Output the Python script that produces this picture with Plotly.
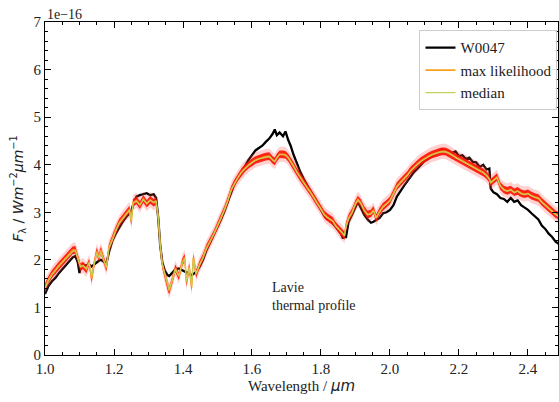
import plotly.graph_objects as go

wavelength = [
    1.000, 1.010, 1.020, 1.030, 1.040, 1.050, 1.060, 1.070, 1.080, 1.088,
    1.095, 1.100, 1.103, 1.110, 1.120, 1.128, 1.135, 1.142, 1.150, 1.156,
    1.162, 1.170, 1.178, 1.185, 1.195, 1.205, 1.215, 1.225, 1.235, 1.245,
    1.250, 1.255, 1.265, 1.275, 1.285, 1.295, 1.305, 1.315, 1.322, 1.328,
    1.334, 1.340, 1.347, 1.355, 1.360, 1.368, 1.378, 1.388, 1.398, 1.405,
    1.410, 1.418, 1.425, 1.430, 1.438, 1.448, 1.458, 1.468, 1.478, 1.490,
    1.500, 1.510, 1.520, 1.530, 1.540, 1.550, 1.560, 1.570, 1.580, 1.590,
    1.600, 1.610, 1.620, 1.630, 1.640, 1.650, 1.660, 1.666, 1.672, 1.680,
    1.690, 1.697, 1.705, 1.712, 1.720, 1.730, 1.740, 1.750, 1.760, 1.770,
    1.780, 1.790, 1.800, 1.810, 1.818, 1.826, 1.834, 1.842, 1.850, 1.858,
    1.864, 1.868, 1.872, 1.880, 1.890, 1.900, 1.907, 1.915, 1.925, 1.935,
    1.945, 1.952, 1.960, 1.970, 1.980, 1.990, 2.000, 2.010, 2.020, 2.030,
    2.040, 2.050, 2.060, 2.070, 2.080, 2.090, 2.100, 2.110, 2.120, 2.130,
    2.140, 2.150, 2.160, 2.170, 2.180, 2.190, 2.200, 2.210, 2.220, 2.230,
    2.240, 2.250, 2.260, 2.270, 2.280, 2.288, 2.292, 2.300, 2.310, 2.320,
    2.330, 2.340, 2.350, 2.360, 2.370, 2.380, 2.390, 2.400, 2.410, 2.420,
    2.430, 2.440, 2.450, 2.460, 2.470, 2.480, 2.490,
]

# observed spectrum W0047 (units of 1e-16 W m^-2 um^-1)
flux_w0047 = [
    1.28, 1.45, 1.55, 1.62, 1.72, 1.80, 1.88, 1.98, 2.05, 2.08,
    1.95, 1.72, 1.85, 1.90, 1.88, 1.90, 1.86, 1.90, 1.95, 1.98,
    2.00, 1.95, 1.92, 2.15, 2.40, 2.55, 2.68, 2.80, 2.90, 2.98,
    3.02, 3.15, 3.33, 3.36, 3.38, 3.40, 3.36, 3.38, 3.30, 2.90,
    2.30, 1.95, 1.78, 1.68, 1.66, 1.72, 1.80, 1.82, 1.78, 1.75,
    1.74, 1.70, 1.68, 1.70, 1.75, 1.85, 2.00, 2.20, 2.35, 2.52,
    2.68, 2.85, 3.02, 3.22, 3.45, 3.62, 3.72, 3.85, 3.98, 4.10,
    4.20, 4.30, 4.35, 4.40, 4.48, 4.55, 4.65, 4.74, 4.62, 4.68,
    4.60, 4.70, 4.52, 4.40, 4.22, 4.02, 3.85, 3.70, 3.56, 3.44,
    3.32, 3.20, 3.05, 2.92, 2.85, 2.88, 2.76, 2.70, 2.62, 2.55,
    2.45, 2.60, 2.46, 2.80, 2.95, 3.12, 3.22, 3.10, 2.95, 2.85,
    2.78, 2.80, 2.84, 2.88, 2.98, 3.00, 3.05, 3.15, 3.33, 3.45,
    3.55, 3.65, 3.75, 3.85, 3.92, 4.00, 4.08, 4.12, 4.18, 4.22,
    4.26, 4.32, 4.30, 4.27, 4.25, 4.28, 4.18, 4.20, 4.12, 4.15,
    4.06, 4.05, 3.95, 4.00, 3.90, 3.92, 3.50, 3.42, 3.38, 3.30,
    3.28, 3.22, 3.30, 3.22, 3.25, 3.15, 3.10, 3.05, 2.98, 2.92,
    2.85, 2.72, 2.65, 2.55, 2.48, 2.38, 2.33,
]

flux_max_likelihood = [
    1.42, 1.58, 1.70, 1.80, 1.88, 1.96, 2.04, 2.12, 2.20, 2.21,
    2.05, 1.92, 1.85, 1.88, 1.80, 1.95, 1.60, 1.90, 2.18, 2.05,
    2.20, 2.00, 1.83, 2.25, 2.45, 2.62, 2.78, 2.88, 2.98, 3.06,
    2.80, 3.20, 3.25, 3.15, 3.28, 3.18, 3.26, 3.20, 3.24, 2.90,
    2.30, 1.90, 1.70, 1.45, 1.35, 1.55, 1.82, 1.65, 1.95, 2.05,
    1.52, 1.85, 1.42, 2.05, 1.70, 1.90, 2.05, 2.25, 2.38, 2.55,
    2.72, 2.88, 3.05, 3.25, 3.48, 3.62, 3.75, 3.85, 3.93, 4.00,
    4.05, 4.10, 4.13, 4.15, 4.17, 4.18, 4.10, 4.07, 4.15, 4.22,
    4.22, 4.21, 4.15, 4.08, 3.98, 3.85, 3.73, 3.62, 3.52, 3.42,
    3.30, 3.18, 3.08, 2.95, 2.90, 2.85, 2.82, 2.72, 2.66, 2.58,
    2.55, 2.50, 2.70, 2.88, 3.00, 3.18, 3.27, 3.20, 3.05, 2.95,
    2.98, 3.05, 2.88, 3.02, 3.12, 3.18, 3.25, 3.40, 3.55, 3.63,
    3.70, 3.78, 3.88, 3.96, 4.02, 4.08, 4.13, 4.17, 4.21, 4.24,
    4.26, 4.28, 4.28, 4.25, 4.20, 4.16, 4.12, 4.08, 4.04, 4.00,
    3.96, 3.92, 3.88, 3.84, 3.78, 3.70, 3.62, 3.68, 3.74, 3.55,
    3.48, 3.45, 3.48, 3.42, 3.45, 3.40, 3.38, 3.40, 3.35, 3.32,
    3.30, 3.22, 3.15, 3.08, 3.02, 2.96, 2.92,
]

flux_median = [
    1.40, 1.56, 1.68, 1.78, 1.86, 1.94, 2.02, 2.10, 2.17, 2.19,
    2.03, 1.90, 1.86, 1.88, 1.82, 1.94, 1.65, 1.90, 2.14, 2.04,
    2.16, 2.00, 1.86, 2.22, 2.43, 2.60, 2.76, 2.86, 2.96, 3.04,
    2.84, 3.18, 3.23, 3.16, 3.26, 3.19, 3.25, 3.21, 3.23, 2.92,
    2.32, 1.92, 1.72, 1.48, 1.38, 1.56, 1.80, 1.67, 1.93, 2.02,
    1.55, 1.83, 1.46, 2.02, 1.72, 1.89, 2.04, 2.23, 2.37, 2.54,
    2.71, 2.87, 3.04, 3.24, 3.47, 3.61, 3.74, 3.84, 3.92, 3.99,
    4.04, 4.09, 4.12, 4.14, 4.16, 4.17, 4.10, 4.07, 4.14, 4.21,
    4.21, 4.20, 4.14, 4.07, 3.97, 3.84, 3.72, 3.61, 3.51, 3.41,
    3.29, 3.17, 3.07, 2.94, 2.89, 2.85, 2.81, 2.72, 2.65, 2.58,
    2.54, 2.51, 2.68, 2.86, 2.99, 3.17, 3.25, 3.19, 3.04, 2.95,
    2.96, 3.03, 2.89, 3.01, 3.11, 3.17, 3.24, 3.38, 3.53, 3.62,
    3.69, 3.77, 3.87, 3.95, 4.01, 4.07, 4.12, 4.16, 4.20, 4.23,
    4.25, 4.27, 4.27, 4.24, 4.19, 4.15, 4.11, 4.07, 4.03, 3.99,
    3.95, 3.91, 3.87, 3.83, 3.77, 3.70, 3.63, 3.67, 3.72, 3.55,
    3.47, 3.44, 3.47, 3.41, 3.44, 3.39, 3.37, 3.39, 3.34, 3.31,
    3.29, 3.21, 3.14, 3.07, 3.01, 2.95, 2.91,
]

# half-widths of the posterior spread around the max-likelihood model
band_inner = 0.08
band_outer = 0.16

x_ticks = [1.0, 1.2, 1.4, 1.6, 1.8, 2.0, 2.2, 2.4]
x_ticklabels = ["1.0", "1.2", "1.4", "1.6", "1.8", "2.0", "2.2", "2.4"]
y_ticks = [0, 1, 2, 3, 4, 5, 6, 7]

SERIF = "Liberation Serif, Times New Roman, serif"
SANS = "DejaVu Sans, sans-serif"

fig = go.Figure()


def band(width, color):
    up = [v + width for v in flux_max_likelihood]
    lo = [v - width for v in flux_max_likelihood]
    fig.add_trace(go.Scatter(
        x=wavelength + wavelength[::-1], y=up + lo[::-1],
        fill="toself", fillcolor=color, line=dict(width=0),
        mode="lines", hoverinfo="skip", showlegend=False))


fig.add_trace(go.Scatter(x=wavelength, y=flux_w0047, mode="lines",
                         name="W0047", line=dict(color="black", width=2.3),
                         legendrank=1))
band(band_outer, "rgba(255,70,70,0.25)")
band(band_inner, "rgba(255,20,5,0.92)")
fig.add_trace(go.Scatter(x=wavelength, y=flux_max_likelihood, mode="lines",
                         name="max likelihood",
                         line=dict(color="#f9a11b", width=1.6), legendrank=2))
fig.add_trace(go.Scatter(x=wavelength, y=flux_median, mode="lines",
                         name="median",
                         line=dict(color="#c3cf5e", width=1.1), legendrank=3))

axis_common = dict(
    showline=True, linecolor="black", linewidth=1.2, mirror="allticks",
    ticks="inside", ticklen=6, tickwidth=1.2, tickcolor="black",
    showgrid=False, zeroline=False,
    tickfont=dict(family=SERIF, size=15, color="#222"),
)

fig.update_xaxes(
    range=[1.0, 2.487], tickvals=x_ticks, ticktext=x_ticklabels,
    minor=dict(ticks="inside", dtick=0.05, ticklen=3, tickcolor="black",
               tickwidth=1),
    title=dict(text="Wavelength / <i><span style='font-family:DejaVu Sans'>μm</span></i>",
               font=dict(family=SERIF, size=15, color="#222"), standoff=4),
    **axis_common)
fig.update_yaxes(
    range=[0, 7], tickvals=y_ticks,
    minor=dict(ticks="inside", dtick=0.2, ticklen=3, tickcolor="black",
               tickwidth=1),
    title=dict(text="<i>F</i><sub>λ</sub> / <i>Wm</i><sup>−2</sup><i>μm</i><sup>−1</sup>",
               font=dict(family=SANS, size=14, color="#222"), standoff=6),
    **axis_common)

fig.add_annotation(xref="paper", yref="paper", x=0.0, y=1.0, xanchor="left",
                   yanchor="bottom", text="1e−16", showarrow=False,
                   font=dict(family=SERIF, size=14, color="#222"), yshift=-2)
fig.add_annotation(xref="x", yref="y", x=1.651, y=1.22, xanchor="left",
                   yanchor="middle", align="left",
                   text="Lavie<br>thermal profile", showarrow=False,
                   font=dict(family=SERIF, size=14, color="#222"))

fig.update_layout(
    width=559, height=402,
    margin=dict(l=45, r=1, t=22, b=47),
    paper_bgcolor="white", plot_bgcolor="white",
    legend=dict(x=0.999, y=0.975, xanchor="right", yanchor="top",
                bgcolor="rgba(255,255,255,0.9)", bordercolor="#cccccc",
                borderwidth=1, font=dict(family=SERIF, size=15, color="#222"),
                tracegroupgap=0),
    showlegend=True,
)

fig.write_html("out.html")
